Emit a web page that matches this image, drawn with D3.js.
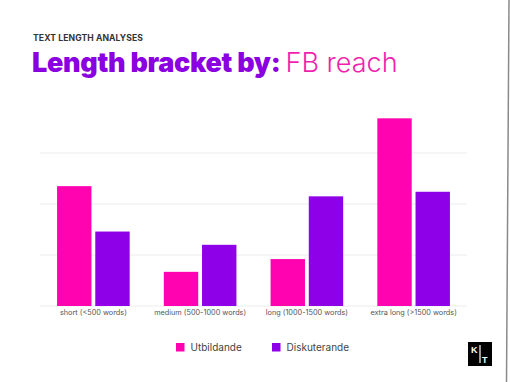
<!DOCTYPE html>
<html lang="en">
<head>
<meta charset="UTF-8">
<title>Length bracket by FB reach</title>
<script src="https://d3js.org/d3.v7.min.js"></script>
<style>
  body { margin: 0; background: #fff; }
  svg { display: block; }
  .kicker { font: 700 8.6px "Inter", sans-serif; fill: #333; letter-spacing: 0.1px; }
  .title-bold { font: 900 27px "Inter", sans-serif; fill: #8a00e0; letter-spacing: -0.3px; }
  .title-light { font: 300 27px "Inter", sans-serif; fill: #f21fae; }
  .tick text { font: 400 7.3px "Inter", sans-serif; fill: #555; }
  .grid line { stroke: #ececec; stroke-width: 1px; }
  .legend text { font: 400 10px "Inter", sans-serif; fill: #444; }
</style>
</head>
<body>
<div id="chart"></div>
<script>
const categories = ['short (<500 words)', 'medium (500-1000 words)', 'long (1000-1500 words)', 'extra long (>1500 words)'];
const seriesNames = ['Utbildande', 'Diskuterande'];
const utbildande = [2.35, 0.67, 0.92, 3.68];
const diskuterande = [1.46, 1.20, 2.15, 2.24];
const gridTicks = [0, 1, 2, 3];
const colors = ['#ff03b1', '#8e00e8'];

const W = 510, H = 382;
const plot = { left: 40, right: 467, top: 100, bottom: 306 };

const svg = d3.select('#chart').append('svg')
    .attr('width', W)
    .attr('height', H);

svg.append('text').attr('class', 'kicker')
    .attr('x', 33).attr('y', 41)
    .text('TEXT LENGTH ANALYSES');

const title = svg.append('text').attr('x', 32).attr('y', 72);
title.append('tspan').attr('class', 'title-bold').text('Length bracket by: ');
title.append('tspan').attr('class', 'title-light').text('FB reach');

const x0 = d3.scaleBand()
    .domain(categories)
    .range([plot.left, plot.right])
    .paddingInner(0.32)
    .paddingOuter(0.16);

const x1 = d3.scaleBand()
    .domain(seriesNames)
    .range([0, x0.bandwidth()])
    .paddingInner(0.1);

const y = d3.scaleLinear()
    .domain([0, 3])
    .range([plot.bottom, 153]);

// gridlines
svg.append('g').attr('class', 'grid')
    .selectAll('line')
    .data(gridTicks)
    .join('line')
    .attr('x1', plot.left)
    .attr('x2', plot.right)
    .attr('y1', d => y(d))
    .attr('y2', d => y(d));

const rows = categories.map((c, i) => ({ cat: c, values: [utbildande[i], diskuterande[i]] }));

svg.append('g')
    .selectAll('g')
    .data(rows)
    .join('g')
    .attr('transform', d => `translate(${x0(d.cat)},0)`)
    .selectAll('rect')
    .data(d => d.values.map((v, j) => ({ name: seriesNames[j], v, j })))
    .join('rect')
    .attr('x', d => x1(d.name))
    .attr('width', x1.bandwidth())
    .attr('y', d => y(d.v))
    .attr('height', d => y(0) - y(d.v))
    .attr('fill', d => colors[d.j]);

const xAxis = svg.append('g')
    .attr('transform', `translate(0,${plot.bottom})`)
    .call(d3.axisBottom(x0).tickSize(0).tickPadding(4));
xAxis.select('.domain').remove();

// legend
const legend = svg.append('g').attr('class', 'legend');
const legendX = [176, 272];
seriesNames.forEach((name, i) => {
  legend.append('rect')
      .attr('x', legendX[i]).attr('y', 343)
      .attr('width', 8.5).attr('height', 8.5)
      .attr('fill', colors[i]);
  legend.append('text')
      .attr('x', legendX[i] + 14.5).attr('y', 351)
      .text(name);
});

// KT logo
const logo = svg.append('g').attr('transform', 'translate(468,342)');
logo.append('rect').attr('width', 24).attr('height', 24).attr('fill', '#000');
logo.append('line')
    .attr('x1', 12).attr('x2', 12).attr('y1', 3).attr('y2', 21)
    .attr('stroke', '#fff').attr('stroke-width', 1.2);
logo.append('text')
    .attr('x', 3).attr('y', 11)
    .attr('fill', '#fff')
    .style('font', '700 9px "Liberation Sans", sans-serif')
    .text('K');
logo.append('text')
    .attr('x', 14).attr('y', 21)
    .attr('fill', '#fff')
    .style('font', '700 9px "Liberation Sans", sans-serif')
    .text('T');

// right frame edge
svg.append('line')
    .attr('x1', 509).attr('y1', 0).attr('x2', 506.5).attr('y2', H)
    .attr('stroke', '#8a8a8a').attr('stroke-width', 1.5);
</script>
</body>
</html>
